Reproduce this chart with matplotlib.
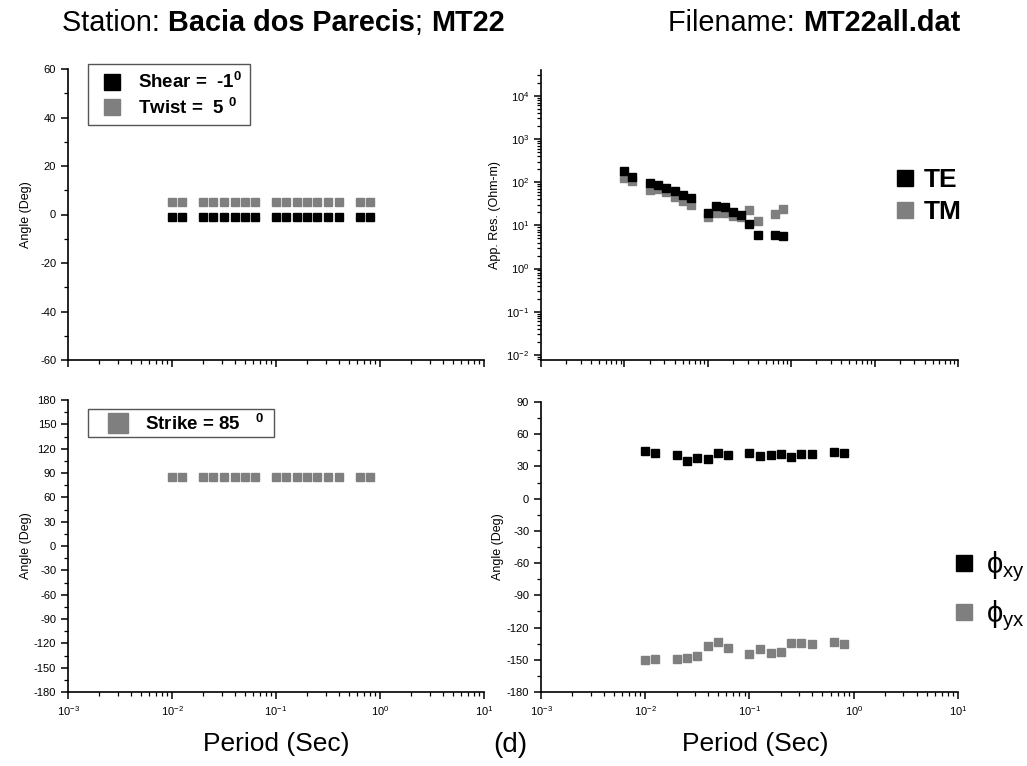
import numpy as np
import matplotlib
matplotlib.use('Agg')
import matplotlib.pyplot as plt
from matplotlib.ticker import MultipleLocator, LogLocator, NullFormatter
from matplotlib.lines import Line2D

plt.rcParams['font.family'] = ['Liberation Sans', 'DejaVu Sans']
plt.rcParams['axes.unicode_minus'] = False

# Periods (s), shared by all panels
period = [0.01, 0.0125, 0.02, 0.025, 0.0315, 0.04, 0.05, 0.0625,
          0.1, 0.125, 0.16, 0.2, 0.25, 0.315, 0.4, 0.64, 0.8]

# Top left: shear and twist angles
shear = [-1] * 17
twist = [5] * 17

# Top right: apparent resistivity
rho_te = [180, 135, 95, 85, 74, 62, 51, 42, 19.4, 27.6, 26.2, 20.4, 17.1,
          10.7, 6.1, 6.1, 5.7]
rho_tm = [126, 105, 67, 71, 58, 46, 37.5, 29.7, 15.3, 19.4, 19.4, 16.5, 15.9,
          22.8, 12.6, 18.4, 23.6]

# Bottom left: strike
strike = [85] * 17

# Bottom right: phases
phi_xy = [44.2, 42.7, 41.1, 35.0, 37.7, 36.8, 42.7, 41.1, 42.7, 39.3, 41.1,
          41.8, 38.4, 41.8, 41.8, 43.3, 42.7]
phi_yx = [-150.3, -149.4, -149.4, -148.5, -146.9, -137.6, -133.0, -138.6,
          -144.4, -140.1, -143.8, -142.9, -134.5, -134.5, -135.5, -133.0, -135.5]

BLACK = '#000000'
GRAY = '#7f7f7f'

W, H = 1027, 766
fig = plt.figure(figsize=(W / 100, H / 100), dpi=100)


def px_axes(x0, x1, y0, y1):
    return fig.add_axes([x0 / W, 1 - y1 / H, (x1 - x0) / W, (y1 - y0) / H])


def style(ax, xmax, xlabels):
    ax.set_xscale('log')
    ax.set_xlim(1e-3, xmax)
    for s in ['top', 'right']:
        ax.spines[s].set_visible(False)
    for s in ['left', 'bottom']:
        ax.spines[s].set_linewidth(1.2)
    ax.xaxis.set_major_locator(LogLocator(base=10, numticks=10))
    ax.xaxis.set_minor_locator(LogLocator(base=10, subs=np.arange(2, 10), numticks=20))
    ax.xaxis.set_minor_formatter(NullFormatter())
    ax.tick_params(which='major', direction='out', length=5, width=1.1, labelsize=8)
    ax.tick_params(which='minor', direction='out', length=3, width=0.9)
    if not xlabels:
        ax.tick_params(axis='x', labelbottom=False)
    ax.patch.set_alpha(0)


# ---- top left ----
ax1 = px_axes(68, 484, 69, 360)
style(ax1, 10, False)
ax1.plot(period, twist, 's', color=GRAY, ms=5.2, ls='none')
ax1.plot(period, shear, 's', color=BLACK, ms=5.2, ls='none')
ax1.set_ylim(-60, 60)
ax1.yaxis.set_major_locator(MultipleLocator(20))
ax1.yaxis.set_minor_locator(MultipleLocator(10))
ax1.set_ylabel('Angle (Deg)', fontsize=9, labelpad=6)
h1 = [Line2D([], [], marker='s', ls='none', color=BLACK, ms=11),
      Line2D([], [], marker='s', ls='none', color=GRAY, ms=11)]
leg1 = ax1.legend(h1, ['Shear =  -1$^\\mathregular{0}$', 'Twist =  5 $^\\mathregular{0}$'],
                  loc='upper left', bbox_to_anchor=(0.048, 1.017), borderaxespad=0,
                  prop={'weight': 'bold', 'size': 13.5}, fancybox=False,
                  edgecolor='#555555', framealpha=1, borderpad=0.4,
                  handletextpad=0.5, labelspacing=0.25, handlelength=1.76)
leg1.get_frame().set_linewidth(1.0)

# ---- top right ----
ax2 = px_axes(541, 958, 70, 360)
style(ax2, 100, False)
ax2.set_yscale('log')
ax2.plot(period, rho_tm, 's', color=GRAY, ms=5.3, ls='none')
ax2.plot(period, rho_te, 's', color=BLACK, ms=5.3, ls='none')
ax2.set_ylim(10 ** -2.12, 10 ** 4.6)
ax2.yaxis.set_major_locator(LogLocator(base=10, numticks=10))
ax2.yaxis.set_minor_locator(LogLocator(base=10, subs=np.arange(2, 10), numticks=20))
ax2.yaxis.set_minor_formatter(NullFormatter())
ax2.set_ylabel('App. Res. (Ohm-m)', fontsize=9, labelpad=4)
h2 = [Line2D([], [], marker='s', ls='none', color=BLACK, ms=11),
      Line2D([], [], marker='s', ls='none', color=GRAY, ms=11)]
fig.legend(h2, ['TE', 'TM'], loc='center left',
           bbox_to_anchor=(893 / W, 1 - 196 / H), frameon=False,
           prop={'weight': 'bold', 'size': 19}, handletextpad=0.25,
           labelspacing=0.3, handlelength=0.9, borderaxespad=0, borderpad=0)

# ---- bottom left ----
ax3 = px_axes(68, 484, 400, 692)
style(ax3, 10, True)
ax3.plot(period, strike, 's', color=GRAY, ms=5.2, ls='none')
ax3.set_ylim(-180, 180)
ax3.yaxis.set_major_locator(MultipleLocator(30))
ax3.yaxis.set_minor_locator(MultipleLocator(15))
ax3.set_ylabel('Angle (Deg)', fontsize=9, labelpad=1)
h3 = [Line2D([], [], marker='s', ls='none', color=GRAY, ms=14)]
leg3 = ax3.legend(h3, ['Strike = 85   $^\\mathregular{0}$  '], loc='upper left',
                  bbox_to_anchor=(0.048, 0.969), borderaxespad=0,
                  prop={'weight': 'bold', 'size': 13.5},
                  fancybox=False, edgecolor='#555555', framealpha=1,
                  borderpad=0.2, handletextpad=0.05, handlelength=2.8)
leg3.get_frame().set_linewidth(1.0)
ax3.set_xlabel('Period (Sec)', fontsize=19)

# ---- bottom right ----
ax4 = px_axes(541, 958, 402, 692)
style(ax4, 10, True)
ax4.plot(period, phi_xy, 's', color=BLACK, ms=5.4, ls='none')
ax4.plot(period, phi_yx, 's', color=GRAY, ms=5.4, ls='none')
ax4.set_ylim(-180, 90)
ax4.yaxis.set_major_locator(MultipleLocator(30))
ax4.yaxis.set_minor_locator(MultipleLocator(15))
ax4.set_ylabel('Angle (Deg)', fontsize=9, labelpad=2)
h4 = [Line2D([], [], marker='s', ls='none', color=BLACK, ms=11),
      Line2D([], [], marker='s', ls='none', color=GRAY, ms=11)]
fig.legend(h4, ['ϕ$_\\mathregular{xy}$', 'ϕ$_\\mathregular{yx}$'], loc='center left',
           bbox_to_anchor=(951 / W, 1 - 591 / H), frameon=False,
           prop={'size': 21}, handletextpad=0.3, labelspacing=0.5,
           handlelength=0.9, borderaxespad=0, borderpad=0)
ax4.set_xlabel('Period (Sec)', fontsize=19)
ax4.xaxis.set_label_coords(0.513, -0.138)
ax3.xaxis.set_label_coords(0.5, -0.136)

fig.text(510 / W, 1 - 745 / H, '(d)', fontsize=20, ha='center', va='center')

# ---- header: normal + bold pieces ----
renderer = fig.canvas.get_renderer()


def header(x, y, parts):
    for txt, wt in parts:
        t = fig.text(x / W, 1 - y / H, txt, fontsize=20.8, weight=wt, va='center', ha='left')
        bb = t.get_window_extent(renderer)
        x = bb.x1


header(62, 23, [('Station: ', 'normal'), ('Bacia dos Parecis', 'bold'),
                ('; ', 'normal'), ('MT22', 'bold')])
header(668, 23, [('Filename: ', 'normal'), ('MT22all.dat', 'bold')])

fig.savefig('out.png', dpi=100)
